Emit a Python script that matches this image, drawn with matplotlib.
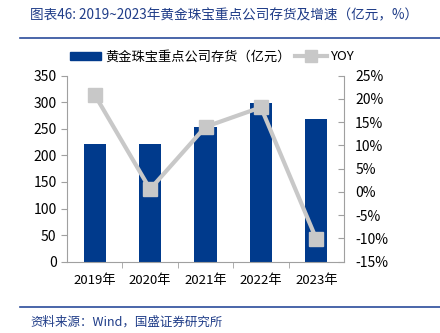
import matplotlib.pyplot as plt
from matplotlib.lines import Line2D
from matplotlib.patches import Patch
from matplotlib.ticker import FuncFormatter, MultipleLocator, FixedLocator

plt.rcParams['font.family'] = ['Noto Sans CJK SC', 'DejaVu Sans']

# 数据
years = ["2019年", "2020年", "2021年", "2022年", "2023年"]
inventory = [221, 222, 253, 299, 268]
yoy = [20.9, 0.6, 14.0, 18.2, -10.1]

bar_color = "#003A8C"
line_color = "#C8C8C8"
axis_color = "#A0A0A0"
title_color = "#1F3C88"

fig = plt.figure(figsize=(4.4, 3.33), dpi=100)

# 标题和分隔线
fig.text(30 / 440, 1 - 15 / 333, "图表46: 2019~2023年黄金珠宝重点公司存货及增速（亿元，%）",
         color=title_color, fontsize=9.8, style="italic", va="center", ha="left")
fig.add_artist(Line2D([20 / 440, 1], [1 - 38 / 333] * 2, color="#2B4C9B", lw=1.2))
fig.add_artist(Line2D([20 / 440, 1], [1 - 307 / 333] * 2, color="#2B4C9B", lw=1.2))
fig.text(30 / 440, 1 - 322 / 333, "资料来源：Wind，国盛证券研究所",
         color=title_color, fontsize=9, style="italic", va="center", ha="left")

ax = fig.add_axes([67 / 440, 1 - 261.7 / 333, 277 / 440, 186 / 333])
x = range(len(years))
ax.bar(x, inventory, width=0.4, color=bar_color, zorder=2)
ax.set_xlim(-0.5, 4.5)
ax.set_ylim(0, 350)
ax.yaxis.set_major_locator(MultipleLocator(50))
ax.set_xticks(list(x))
ax.set_xticklabels(years)
ax.xaxis.set_minor_locator(FixedLocator([0.5, 1.5, 2.5, 3.5]))
ax.tick_params(axis="x", which="major", length=0, labelsize=9.5, pad=9)
ax.tick_params(axis="x", which="minor", length=4, color=axis_color, direction="out")
ax.tick_params(axis="y", length=4, color=axis_color, labelsize=10, direction="out")
for s in ["top", "right"]:
    ax.spines[s].set_visible(False)
for s in ["left", "bottom"]:
    ax.spines[s].set_color(axis_color)

ax2 = ax.twinx()
ax2.plot(x, yoy, color=line_color, lw=3, marker="s", markersize=10, zorder=3)
ax2.set_ylim(-15, 25)
ax2.yaxis.set_major_locator(MultipleLocator(5))
ax2.yaxis.set_major_formatter(FuncFormatter(lambda v, p: f"{v:.0f}%"))
ax2.tick_params(axis="y", length=4, color=axis_color, labelsize=10, direction="in", pad=8)
for s in ["top", "left", "bottom"]:
    ax2.spines[s].set_visible(False)
ax2.spines["right"].set_color(axis_color)

handles = [Patch(color=bar_color),
           Line2D([], [], color=line_color, lw=3, marker="s", markersize=8)]
labels = ["黄金珠宝重点公司存货（亿元）", "YOY"]
fig.legend(handles, labels, loc="center", bbox_to_anchor=(212 / 440, 1 - 57 / 333),
           ncol=2, frameon=False, fontsize=9.5, handlelength=2.4, handleheight=0.6,
           columnspacing=0.3, handletextpad=0.3)

fig.savefig("out.png", dpi=100)
